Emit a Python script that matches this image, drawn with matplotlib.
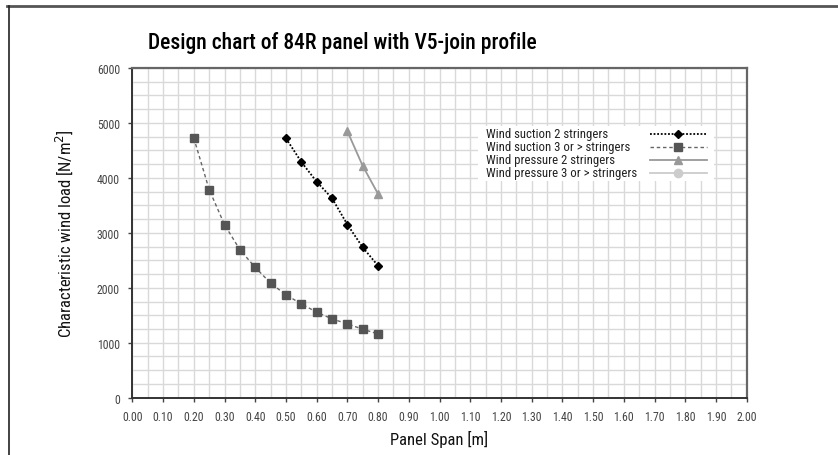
import numpy as np
import matplotlib
matplotlib.use('Agg')
import matplotlib.pyplot as plt
from matplotlib.lines import Line2D
from matplotlib.patches import Rectangle
from matplotlib.ticker import MultipleLocator

plt.rcParams['font.family'] = ['Roboto Condensed', 'Liberation Sans Narrow', 'DejaVu Sans']

# panel span [m] and characteristic wind load [N/m2]
spanSuction2 = [0.50, 0.55, 0.60, 0.65, 0.70, 0.75, 0.80]
loadSuction2 = [4720, 4290, 3930, 3630, 3150, 2735, 2400]

spanSuction3 = [0.20, 0.25, 0.30, 0.35, 0.40, 0.45, 0.50, 0.55, 0.60, 0.65, 0.70, 0.75, 0.80]
loadSuction3 = [4725, 3785, 3148, 2692, 2371, 2084, 1871, 1707, 1556, 1434, 1343, 1246, 1160]

spanPressure2 = [0.70, 0.75, 0.80]
loadPressure2 = [4848, 4217, 3707]

spanPressure3 = []
loadPressure3 = []

labels = ['Wind suction 2 stringers', 'Wind suction 3 or > stringers',
          'Wind pressure 2 stringers', 'Wind pressure 3 or > stringers']

fig = plt.figure(figsize=(8.38, 4.56), dpi=100)
ax = fig.add_axes([0.158, 0.1257, 0.733, 0.723])

styles = [
    dict(color='black', linestyle=(0, (1, 1)), lw=1.3, marker='D', markersize=4.5,
         markerfacecolor='black', markeredgecolor='black'),
    dict(color='#666666', linestyle=(0, (2.5, 2)), lw=1.0, marker='s', markersize=6,
         markerfacecolor='#555555', markeredgecolor='#555555'),
    dict(color='#999999', linestyle='-', lw=1.3, marker='^', markersize=6,
         markerfacecolor='#999999', markeredgecolor='#999999'),
    dict(color='#cccccc', linestyle='-', lw=1.3, marker='o', markersize=6,
         markerfacecolor='#cccccc', markeredgecolor='#cccccc'),
]
series = [(spanSuction2, loadSuction2), (spanSuction3, loadSuction3),
          (spanPressure2, loadPressure2), (spanPressure3, loadPressure3)]
for (xs, ys), st, lab in zip(series, styles, labels):
    ax.plot(xs, ys, label=lab, **st)

ax.set_xlim(0, 2.0)
ax.set_ylim(0, 6000)
ax.set_xticks(np.arange(0, 2.001, 0.1))
ax.set_xticklabels(['%.2f' % v for v in np.arange(0, 2.001, 0.1)])
ax.xaxis.set_minor_locator(MultipleLocator(0.05))
ax.yaxis.set_major_locator(MultipleLocator(1000))
ax.yaxis.set_minor_locator(MultipleLocator(250))
ax.grid(True, which='both', color='#d9d9d9', lw=1.0)
ax.set_axisbelow(True)
ax.tick_params(which='major', length=3, width=1, color='#444444', labelsize=8.5,
               labelcolor='#444444', pad=6)
ax.tick_params(which='minor', length=0)

for side in ['left', 'bottom']:
    ax.spines[side].set_color('#333333')
    ax.spines[side].set_linewidth(1.4)
for side in ['top', 'right']:
    ax.spines[side].set_color('#666666')
    ax.spines[side].set_linewidth(1.6)

ax.set_xlabel('Panel Span [m]', fontsize=12, labelpad=5, color='#111111')
ax.set_ylabel('Characteristic wind load [N/m$^2$]', fontsize=12, labelpad=16, color='#111111')

# legend drawn by hand: text left-aligned, sample line on the right
px_w, px_h = 614.7, 329.7
def fx(px):
    return (px - 132.3) / px_w
def fy(py):
    return (398.7 - py) / px_h

rows = [135, 148, 161, 174]
ax.add_patch(Rectangle((fx(478), fy(rows[-1] + 8)), fx(714) - fx(478),
                       fy(rows[0] - 8) - fy(rows[-1] + 8), transform=ax.transAxes,
                       facecolor='white', edgecolor='none', zorder=3))
for py, st, lab in zip(rows, styles, labels):
    ax.text(fx(486), fy(py), lab, transform=ax.transAxes, fontsize=9.2,
            color='#222222', va='center', ha='left', zorder=4)
    line_st = dict(st)
    line_st.pop('marker')
    ax.add_line(Line2D([fx(650), fx(707)], [fy(py), fy(py)], transform=ax.transAxes,
                       zorder=4, **line_st))
    ax.add_line(Line2D([fx(678.5)], [fy(py)], transform=ax.transAxes, zorder=5,
                       linestyle='none', marker=st['marker'], markersize=st['markersize'],
                       markerfacecolor=st['markerfacecolor'],
                       markeredgecolor=st['markeredgecolor']))

fig.text(148 / 838, 1 - 43 / 456, 'Design chart of 84R panel with V5-join profile',
         fontsize=15.5, fontweight='medium', va='center', ha='left')

# outer frame lines
fig.add_artist(Line2D([7 / 838, 1], [1 - 7 / 456, 1 - 7 / 456], transform=fig.transFigure,
                      color='#555555', lw=2))
fig.add_artist(Line2D([9 / 838, 9 / 838], [0, 1 - 7 / 456], transform=fig.transFigure,
                      color='#222222', lw=1.2))

fig.savefig('out.png', dpi=100)
